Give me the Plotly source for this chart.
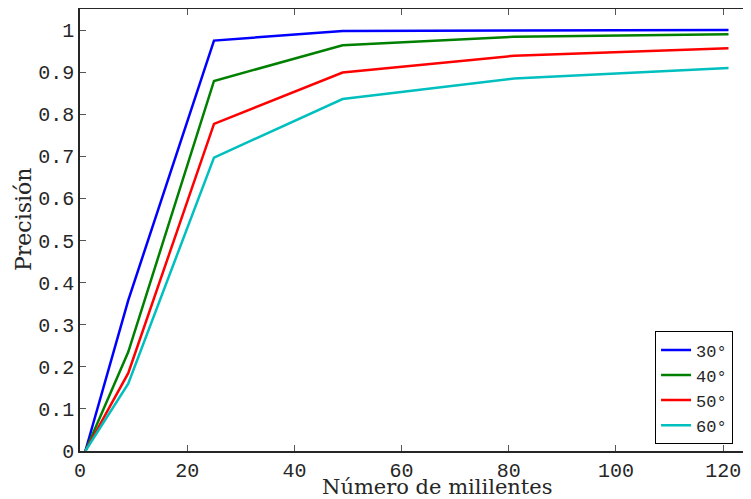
import plotly.graph_objects as go

milli = [1, 9, 25, 49, 81, 121]
labels = ["30°", "40°", "50°", "60°"]
prec_30 = [0.0, 0.358, 0.975, 0.998, 0.999, 1.0]
prec_40 = [0.0, 0.235, 0.879, 0.964, 0.984, 0.990]
prec_50 = [0.0, 0.185, 0.777, 0.899, 0.939, 0.957]
prec_60 = [0.0, 0.160, 0.697, 0.836, 0.885, 0.910]
series = [prec_30, prec_40, prec_50, prec_60]
colors = ["#0000FF", "#008000", "#FF0000", "#00BFBF"]
x_title = "Número de mililentes"
y_title = "Precisión"

fig = go.Figure()
for name, ys, c in zip(labels, series, colors):
    fig.add_trace(go.Scatter(x=milli, y=ys, mode="lines", name=name,
                             line=dict(color=c, width=2.5)))

tickfont = dict(family="Liberation Mono", size=20, color="#262626")
titlefont = dict(family="DejaVu Serif", size=21, color="#262626")
fig.update_layout(
    width=743, height=491,
    margin=dict(l=72, r=0, t=1, b=48),
    plot_bgcolor="white", paper_bgcolor="white",
    showlegend=True,
    legend=dict(x=0.857, y=0.015, xanchor="left", yanchor="bottom",
                bordercolor="black", borderwidth=1, bgcolor="white",
                font=dict(family="Liberation Mono", size=17, color="#262626"),
                tracegroupgap=0),
    xaxis=dict(range=[0, 125.2], tickmode="linear", tick0=0, dtick=20,
               automargin=False,
               showgrid=False, zeroline=False, showline=True,
               linecolor="#262626", linewidth=1.5, mirror="ticks",
               ticks="inside", ticklen=6, tickcolor="#555", tickwidth=1,
               tickfont=tickfont),
    yaxis=dict(range=[0, 1.05], tickmode="linear", tick0=0, dtick=0.1,
               automargin=False,
               showgrid=False, zeroline=False, showline=True,
               linecolor="#262626", linewidth=1.5,
               ticks="inside", ticklen=6, tickcolor="#555", tickwidth=1,
               tickfont=tickfont),
    annotations=[
        dict(text=x_title, xref="paper", yref="paper", x=0.533, y=0,
             yshift=-36, xanchor="center", yanchor="middle", showarrow=False,
             font=titlefont),
        dict(text=y_title, xref="paper", yref="paper", x=0, y=0.5,
             xshift=-57, yshift=10, xanchor="center", yanchor="middle",
             showarrow=False, textangle=-90, font=dict(family="DejaVu Serif", size=22, color="#262626")),
    ],
)
fig.write_html("out.html")
